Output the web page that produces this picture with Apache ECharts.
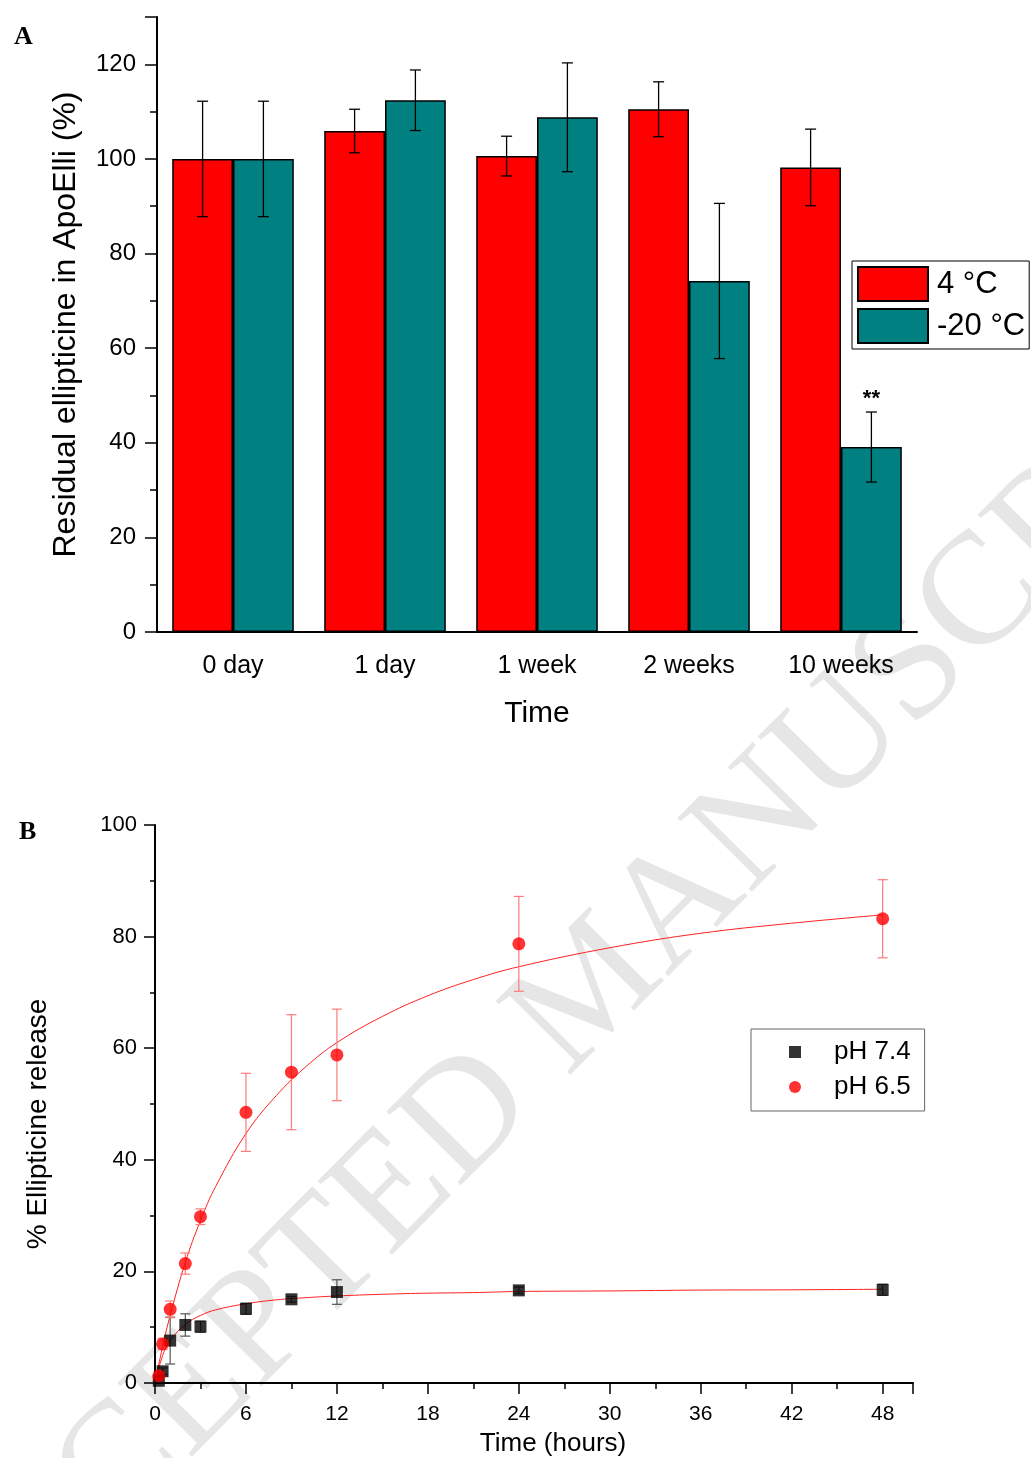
<!DOCTYPE html>
<html><head><meta charset="utf-8">
<script src="https://cdn.jsdelivr.net/npm/echarts@6/dist/echarts.min.js"></script>
<style>html,body{margin:0;padding:0;background:#fff}#c{width:1031px;height:1458px}</style>
</head><body><div id="c"></div>
<script>
// ---- Panel A data ----
const categoriesA = ['0 day', '1 day', '1 week', '2 weeks', '10 weeks'];
const residual4C = [100, 105.9, 100.6, 110.5, 98.2];
const err4C = [12.2, 4.6, 4.2, 5.8, 8.1];
const residualMinus20C = [100, 112.4, 108.8, 74.2, 39.1];
const errMinus20C = [12.2, 6.4, 11.5, 16.4, 7.4];
const significanceMinus20C = ['', '', '', '', '**'];

// ---- Panel B data ----
const timeHours = [0.25, 0.5, 1, 2, 3, 6, 9, 12, 24, 48];
const releasePH74 = [0.4, 2.1, 7.6, 10.4, 10.1, 13.3, 15.0, 16.3, 16.6, 16.7];
const errPH74 = [0.3, 0.6, 4.2, 2.0, 1.0, 1.0, 0.5, 2.2, 0.6, 1.0];
const releasePH65 = [1.3, 7.0, 13.2, 21.4, 29.8, 48.5, 55.7, 58.8, 78.7, 83.2];
const errPH65 = [0.5, 1.0, 1.5, 1.9, 1.4, 7.0, 10.3, 8.2, 8.5, 7.0];
const fitTimes = [0, 0.5, 1, 2, 3, 4, 6, 8, 10, 12, 15, 18, 21, 24, 30, 36, 42, 48];
const fitPH74 = [0, 4.9, 7.6, 10.5, 12.1, 13.1, 14.2, 14.9, 15.3, 15.6, 15.9, 16.1, 16.2, 16.4, 16.5, 16.65, 16.7, 16.8];
const fitPH65 = [0, 6.5, 12.1, 21.6, 29.1, 35.2, 44.7, 51.5, 56.8, 61.0, 65.7, 69.4, 72.3, 74.6, 78.0, 80.6, 82.4, 83.9];

const FONT = 'Arial, "Liberation Sans", sans-serif';

function errBarsA(name, offsetSign, vals, errs, labels) {
  return {
    type: 'custom', name: name, xAxisIndex: 0, yAxisIndex: 0, z: 5, silent: true,
    data: vals.map((v, i) => [i, v, errs[i]]),
    renderItem: function (params, api) {
      const i = api.value(0), v = api.value(1), e = api.value(2);
      const band = api.size([1, 0])[0];
      const x = api.coord([i, v])[0] + offsetSign * 0.2 * band;
      const top = api.coord([i, v + e])[1];
      const bot = api.coord([i, v - e])[1];
      const cap = 5.5;
      const st = { stroke: '#000', lineWidth: 1.3 };
      const ch = [
        { type: 'line', shape: { x1: x, y1: top, x2: x, y2: bot }, style: st },
        { type: 'line', shape: { x1: x - cap, y1: top, x2: x + cap, y2: top }, style: st },
        { type: 'line', shape: { x1: x - cap, y1: bot, x2: x + cap, y2: bot }, style: st }
      ];
      const lab = labels ? labels[params.dataIndex] : '';
      if (lab) {
        ch.push({ type: 'text', style: { text: lab, x: x, y: top - 2, align: 'center', verticalAlign: 'bottom',
          font: 'bold 22px ' + FONT, fill: '#000' } });
      }
      return { type: 'group', children: ch };
    }
  };
}

function errBarsB(name, xs, vals, errs, color) {
  return {
    type: 'custom', name: name, xAxisIndex: 2, yAxisIndex: 1, z: 4, silent: true,
    data: vals.map((v, i) => [xs[i], v, errs[i]]),
    renderItem: function (params, api) {
      const t = api.value(0), v = api.value(1), e = api.value(2);
      const x = api.coord([t, v])[0];
      const top = api.coord([t, v + e])[1];
      const bot = api.coord([t, v - e])[1];
      const cap = 5;
      const st = { stroke: color, lineWidth: 1.2 };
      return { type: 'group', children: [
        { type: 'line', shape: { x1: x, y1: top, x2: x, y2: bot }, style: st },
        { type: 'line', shape: { x1: x - cap, y1: top, x2: x + cap, y2: top }, style: st },
        { type: 'line', shape: { x1: x - cap, y1: bot, x2: x + cap, y2: bot }, style: st }
      ] };
    }
  };
}

const axisBlack = { color: '#000', width: 2 };
const tickBlack = { color: '#000', width: 1.5 };

const option = {
  animation: false,
  backgroundColor: '#fff',
  textStyle: { fontFamily: FONT },
  graphic: [
    { type: 'text', x: 595, y: 990, rotation: 0.79, z: -10, silent: true,
      style: { text: 'ACCEPTED MANUSCRIPT', align: 'center', verticalAlign: 'middle',
        font: '160px "Liberation Serif", "Times New Roman", serif', fill: '#e6e6e6' } },
    { type: 'text', x: 14, y: 24, silent: true,
      style: { text: 'A', font: 'bold 26px "Liberation Serif", serif', fill: '#000' } },
    { type: 'text', x: 19, y: 819, silent: true,
      style: { text: 'B', font: 'bold 26px "Liberation Serif", serif', fill: '#000' } }
  ],
  legend: [
    { data: ['4 °C', '-20 °C'], orient: 'vertical', left: 852, top: 261, icon: 'rect',
      itemWidth: 70, itemHeight: 34, itemGap: 6, padding: [5, 4, 5, 5],
      borderColor: '#000', borderWidth: 1,
      textStyle: { fontSize: 31, color: '#000', fontFamily: FONT, padding: [0, 0, 0, 4] } },
    { data: [{ name: 'pH 7.4', icon: 'rect' }, { name: 'pH 6.5', icon: 'circle' }],
      orient: 'vertical', left: 751, top: 1029, itemWidth: 12, itemHeight: 12, itemGap: 9,
      padding: [10, 14, 11, 38], borderColor: '#666', borderWidth: 1,
      textStyle: { fontSize: 26, lineHeight: 26, color: '#000', fontFamily: FONT, padding: [0, 0, 0, 28] } }
  ],
  grid: [
    { left: 157, top: 17, width: 760, height: 615 },
    { left: 155, top: 825, width: 758, height: 559 }
  ],
  xAxis: [
    { type: 'category', gridIndex: 0, data: categoriesA, position: 'bottom',
      axisLine: { lineStyle: axisBlack },
      axisTick: { alignWithLabel: true, length: 12, lineStyle: tickBlack },
      axisLabel: { fontSize: 25, color: '#000', margin: 22 },
      name: 'Time', nameLocation: 'middle', nameGap: 67,
      nameTextStyle: { fontSize: 30, color: '#000' } },
    { type: 'category', gridIndex: 0, data: categoriesA, position: 'bottom',
      axisLine: { show: false }, axisLabel: { show: false },
      axisTick: { alignWithLabel: false, length: 6, lineStyle: tickBlack } },
    { type: 'value', gridIndex: 1, min: 0, max: 50, interval: 6, position: 'bottom',
      axisLine: { lineStyle: axisBlack },
      axisTick: { length: 11, lineStyle: tickBlack },
      minorTick: { show: true, splitNumber: 2, length: 6, lineStyle: tickBlack },
      splitLine: { show: false },
      axisLabel: { fontSize: 21, color: '#000', margin: 21, formatter: v => (v > 48 ? '' : String(v)) },
      name: 'Time (hours)', nameLocation: 'middle', nameGap: 48,
      nameTextStyle: { fontSize: 26, color: '#000', padding: [0, 0, 0, 38] } }
  ],
  yAxis: [
    { type: 'value', gridIndex: 0, min: 0, max: 130, interval: 20,
      axisLine: { show: true, lineStyle: axisBlack },
      axisTick: { show: true, length: 12, lineStyle: tickBlack },
      minorTick: { show: true, splitNumber: 2, length: 7, lineStyle: tickBlack },
      splitLine: { show: false },
      axisLabel: { fontSize: 24, color: '#000', margin: 21, formatter: v => (v > 120 ? '' : String(v)) },
      name: 'Residual ellipticine in ApoElli (%)', nameLocation: 'middle', nameGap: 75,
      nameTextStyle: { fontSize: 32, color: '#000' } },
    { type: 'value', gridIndex: 1, min: 0, max: 100, interval: 20,
      axisLine: { show: true, lineStyle: axisBlack },
      axisTick: { show: true, length: 11, lineStyle: tickBlack },
      minorTick: { show: true, splitNumber: 2, length: 5, lineStyle: tickBlack },
      splitLine: { show: false },
      axisLabel: { fontSize: 22, color: '#000', margin: 18 },
      name: '% Ellipticine release', nameLocation: 'middle', nameGap: 103,
      nameTextStyle: { fontSize: 28, color: '#000', padding: [0, 40, 0, 0] } }
  ],
  series: [
    { type: 'bar', name: '4 °C', xAxisIndex: 0, yAxisIndex: 0, data: residual4C,
      barGap: '0%', barCategoryGap: '20%',
      itemStyle: { color: '#ff0000', borderColor: '#000', borderWidth: 1.5 } },
    { type: 'bar', name: '-20 °C', xAxisIndex: 0, yAxisIndex: 0, data: residualMinus20C,
      barGap: '0%', barCategoryGap: '20%',
      itemStyle: { color: '#008080', borderColor: '#000', borderWidth: 1.5 } },
    errBarsA('err4C', -1, residual4C, err4C, null),
    errBarsA('errM20C', 1, residualMinus20C, errMinus20C, significanceMinus20C),
    { type: 'line', name: 'fit74', xAxisIndex: 2, yAxisIndex: 1, z: 3, silent: true,
      data: fitTimes.map((t, i) => [t, fitPH74[i]]), smooth: 0.4,
      showSymbol: false, symbol: 'none', lineStyle: { color: '#ff2020', width: 1 } },
    { type: 'line', name: 'fit65', xAxisIndex: 2, yAxisIndex: 1, z: 3, silent: true,
      data: fitTimes.map((t, i) => [t, fitPH65[i]]), smooth: 0.4,
      showSymbol: false, symbol: 'none', lineStyle: { color: '#ff2020', width: 1 } },
    errBarsB('errPH74', timeHours, releasePH74, errPH74, '#555'),
    errBarsB('errPH65', timeHours, releasePH65, errPH65, '#ff7a7a'),
    { type: 'scatter', name: 'pH 7.4', xAxisIndex: 2, yAxisIndex: 1, z: 6,
      data: timeHours.map((t, i) => [t, releasePH74[i]]), symbol: 'rect', symbolSize: 12,
      itemStyle: { color: '#000' } },
    { type: 'scatter', name: 'pH 6.5', xAxisIndex: 2, yAxisIndex: 1, z: 6,
      data: timeHours.map((t, i) => [t, releasePH65[i]]), symbol: 'circle', symbolSize: 13,
      itemStyle: { color: '#ff0000' } }
  ]
};

const chart = echarts.init(document.getElementById('c'), null, { renderer: 'canvas' });
chart.setOption(option);
</script>
</body></html>
